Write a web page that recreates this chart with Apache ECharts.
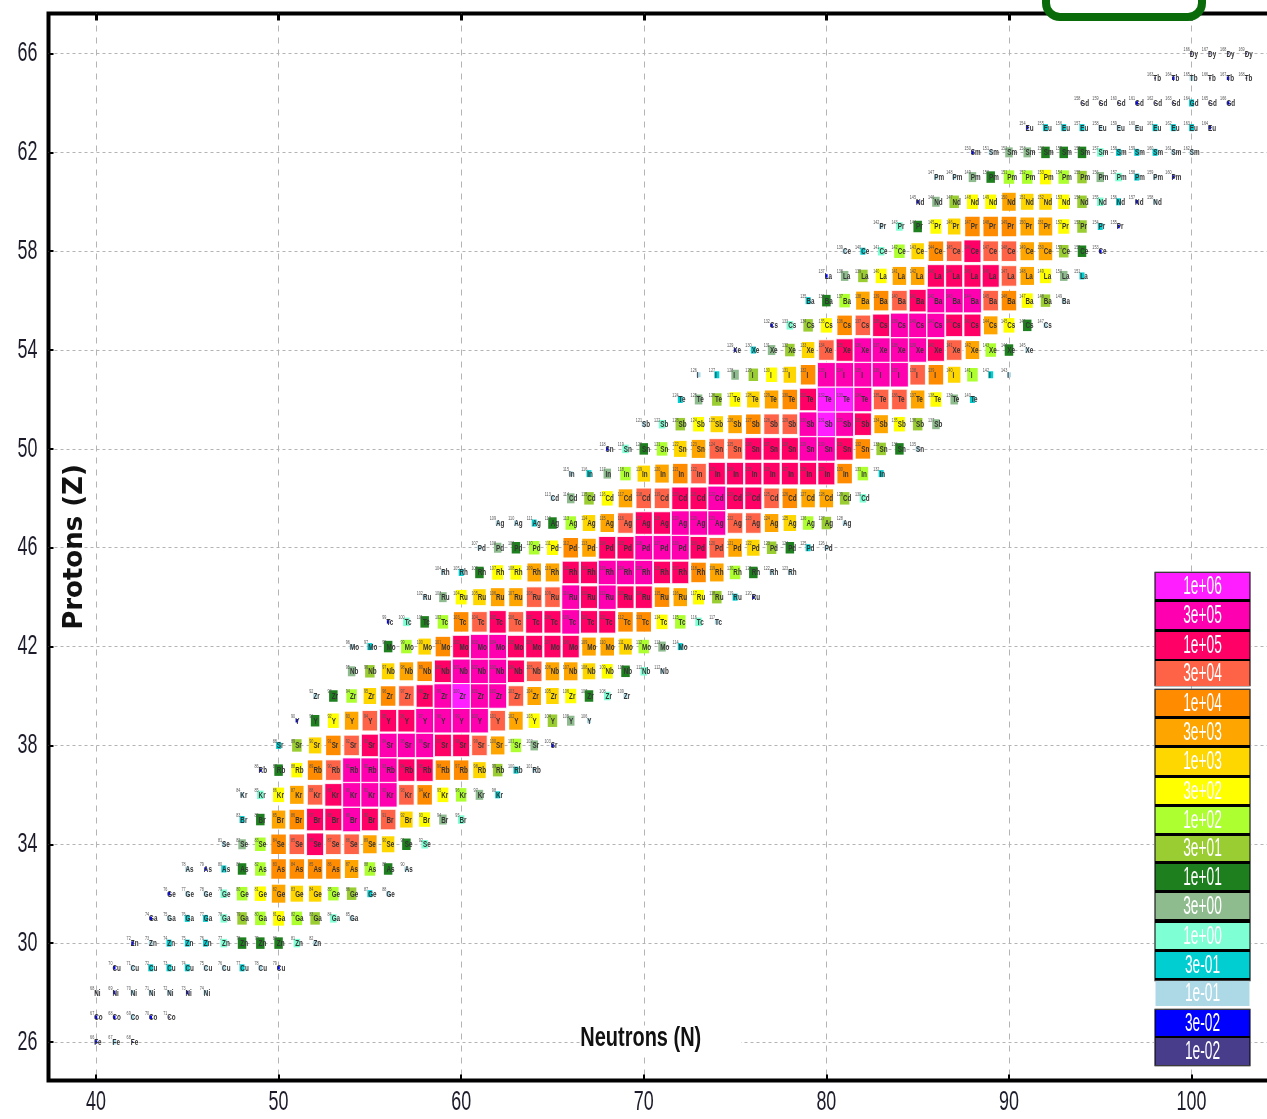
<!DOCTYPE html>
<html><head><meta charset="utf-8">
<style>html,body{margin:0;padding:0;background:#fff;overflow:hidden}#c{width:1267px;height:1119px;filter:blur(0.45px)}</style>
<script src="https://cdn.jsdelivr.net/npm/echarts@6/dist/echarts.min.js"></script>
</head><body><div id="c"></div>
<script>
// Colour-scale classes
const legendValues = [1e6,3e5,1e5,3e4,1e4,3e3,1e3,3e2,1e2,3e1,1e1,3e0,1e0,3e-1,1e-1,3e-2,1e-2];
const legendLabels = ['1e+06','3e+05','1e+05','3e+04','1e+04','3e+03','1e+03','3e+02','1e+02','3e+01','1e+01','3e+00','1e+00','3e-01','1e-01','3e-02','1e-02'];
const elements = ['Fe','Co','Ni','Cu','Zn','Ga','Ge','As','Se','Br','Kr','Rb','Sr','Y','Zr','Nb','Mo','Tc','Ru','Rh','Pd','Ag','Cd','In','Sn','Sb','Te','I','Xe','Cs','Ba','La','Ce','Pr','Nd','Pm','Sm','Eu','Gd','Tb','Dy'];
const neutronTicks = [40,50,60,70,80,90,100];
const protonTicks = [26,30,34,38,42,46,50,54,58,62,66];
// Values per proton row, in consecutive neutron numbers from firstN
const z26=[3e-2,1e-1,1e-2];
const z27=[3e-2,3e-2,1e-1,3e-2,1e-2];
const z28=[1e-2,3e-2,1e-1,1e-1,1e-1,3e-2,1e-1];
const z29=[3e-2,1e-1,3e-1,3e-1,3e-1,1e-1,1e-1,3e-1,1e-1,3e-2];
const z30=[3e-2,1e-1,3e-1,3e-1,3e-1,1e0,1e1,1e1,1e1,1e0,1e-1];
const z31=[3e-2,1e-1,3e-1,3e-1,1e0,3e1,1e2,3e2,1e2,3e1,1e0,1e-1];
const z32=[3e-2,1e-1,1e-1,1e0,1e2,3e2,3e3,1e3,1e3,1e2,3e1,3e-1,1e-1];
const z33=[1e-1,3e-2,3e-1,1e1,1e2,1e4,1e4,1e4,1e4,3e3,1e2,1e1,1e-1];
const z34=[1e-1,3e0,1e2,1e4,3e4,1e5,3e4,3e4,3e3,1e3,1e1,1e0];
const z35=[3e-1,1e1,3e3,1e4,1e5,1e5,3e5,1e5,3e4,1e3,3e2,3e0,1e0];
const z36=[1e-1,1e0,3e2,3e3,3e4,1e5,3e5,3e5,3e5,3e4,1e4,3e2,1e2,3e0,3e-1];
const z37=[3e-2,1e1,3e2,1e4,3e4,3e5,3e5,3e5,1e5,1e5,1e4,1e4,1e3,3e1,3e-1,1e-1];
const z38=[3e-1,3e1,1e3,1e4,3e4,1e5,3e5,3e5,3e5,1e5,1e5,3e4,3e3,1e2,3e0,3e-2];
const z39=[3e-2,1e1,3e2,3e3,3e4,1e5,1e5,3e5,3e5,3e5,3e5,3e4,3e3,3e2,3e1,3e0,1e-1];
const z40=[1e-1,1e1,1e2,1e3,1e4,3e4,1e5,3e5,1e6,3e5,3e5,3e4,3e3,1e3,3e2,1e1,1e0,1e-1];
const z41=[3e0,3e1,1e3,3e3,1e4,1e5,3e5,3e5,3e5,1e5,3e4,3e3,3e3,1e3,3e2,1e1,1e0,1e-1];
const z42=[1e-1,3e-1,1e1,1e2,1e3,1e4,1e5,3e5,3e5,1e5,1e5,1e5,1e5,3e3,3e3,1e3,1e2,3e0,3e-1];
const z43=[3e-2,1e0,1e1,1e2,1e4,3e4,1e5,3e4,1e5,1e5,3e5,1e5,1e5,1e4,1e4,3e2,1e2,1e0,1e-1];
const z44=[1e-1,3e0,3e2,1e3,3e3,3e3,3e4,3e4,3e5,1e5,3e5,1e5,1e5,1e4,3e3,3e2,3e1,3e-1,3e-2];
const z45=[1e-1,3e-1,1e1,3e2,3e2,3e3,3e3,1e5,1e5,3e5,3e5,3e5,1e5,1e5,1e4,3e3,1e2,1e1,1e-1,1e-1];
const z46=[1e-1,3e0,1e1,1e2,3e2,1e4,3e3,1e5,1e5,3e5,3e5,3e5,1e5,3e4,3e3,1e3,3e1,1e1,3e-1,1e-1];
const z47=[1e-1,1e-1,3e-1,1e1,1e2,1e3,3e3,3e4,1e5,1e5,3e5,3e5,3e5,3e4,3e4,3e3,1e3,1e2,3e1,1e-1];
const z48=[1e-1,3e0,3e1,3e2,3e3,3e4,3e4,1e5,1e5,3e5,1e5,1e5,3e4,1e4,3e3,3e3,3e1,1e0];
const z49=[1e-1,3e-1,3e0,1e2,1e3,3e3,1e4,3e4,1e5,1e5,1e5,1e5,1e5,1e5,1e5,1e4,1e2,3e-1];
const z50=[3e-2,1e0,1e1,1e2,1e3,3e3,3e4,3e4,1e5,1e5,1e5,3e5,3e5,1e5,1e4,3e1,1e1,1e-1];
const z51=[1e-1,1e0,3e1,3e2,1e3,3e3,1e4,3e4,3e4,3e5,1e6,3e5,1e5,3e3,3e2,3e1,3e0];
const z52=[3e-1,3e0,3e1,3e2,1e3,3e3,1e4,1e5,1e6,1e6,3e5,3e4,3e4,3e3,3e2,3e0,3e-1];
const z53=[1e-1,3e-1,3e0,3e1,3e2,1e3,1e4,3e5,3e5,3e5,3e5,3e5,3e4,1e4,1e3,1e2,3e-1,1e-1];
const z54=[3e-2,3e-1,3e0,3e1,1e3,3e4,1e5,3e5,3e5,3e5,3e5,1e5,3e4,3e3,1e2,1e1,1e-1];
const z55=[3e-2,1e0,3e1,3e2,1e4,3e4,1e5,3e5,3e5,3e5,1e5,1e5,3e3,3e2,1e1,1e-1];
const z56=[3e-1,1e1,1e2,3e3,1e4,3e4,1e5,3e5,3e5,3e5,3e4,1e4,3e2,3e1,1e-1];
const z57=[3e-2,3e0,3e1,3e2,3e3,3e3,1e5,1e5,1e5,1e5,3e4,3e3,3e2,3e0,3e-1];
const z58=[1e-1,3e-1,1e0,1e2,1e3,1e4,3e4,1e5,3e4,3e4,3e3,3e3,3e1,1e1,3e-2];
const z59=[1e-1,1e0,1e1,3e2,1e3,1e4,1e4,1e4,3e3,3e3,3e2,3e1,3e-1,3e-2];
const z60=[3e-2,3e0,3e1,3e2,3e2,3e3,1e3,1e3,3e2,3e1,1e0,3e-1,3e-2,1e-1];
const z61=[1e-1,1e-1,3e0,1e1,1e2,1e2,3e2,1e2,3e1,3e0,1e0,3e-1,1e-1,3e-2];
const z62=[3e-2,1e-1,3e0,3e0,1e1,1e1,1e1,1e0,3e-1,3e-1,3e-1,1e-1,1e-1];
const z63=[3e-2,3e-1,3e-1,3e-1,1e-1,1e-1,1e-1,3e-1,3e-1,3e-1,3e-2];
const z64=[1e-2,1e-2,1e-2,3e-2,1e-2,1e-2,3e-1,1e-2,3e-2];
const z65=[1e-2,3e-2,1e-1,1e-2,3e-2,1e-2];
const z66=[1e-2,1e-2,1e-2,1e-2];
const rowValues=[z26,z27,z28,z29,z30,z31,z32,z33,z34,z35,z36,z37,z38,z39,z40,z41,z42,z43,z44,z45,z46,z47,z48,z49,z50,z51,z52,z53,z54,z55,z56,z57,z58,z59,z60,z61,z62,z63,z64,z65,z66];
const firstN=[40,40,40,41,42,43,44,45,47,48,48,49,50,51,52,54,54,56,58,59,61,62,65,66,68,70,72,73,75,77,79,80,81,83,85,86,88,91,94,98,100];
const firstZ=26;

// Styles per class (same order as legendValues)
const colors=['#FF1EFF','#FF00B0','#FF0066','#FF6347','#FF8C00','#FFA500','#FFD700','#FFFF00','#ADFF2F','#9ACD32','#1E7F1E','#8FBC8F','#7FFFD4','#00CED1','#ADD8E6','#0000FF','#483D8B'];
const cellW=[18.3,17.9,17,15.5,14.5,13.5,12.5,11,10.5,9.5,8.5,7.5,6.5,5,4,2.5,1.5];
const cellH=[24.8,24.4,22.5,20.5,19.5,18,16,14.5,13.5,12.5,11.5,10,8.5,7,5,3.5,2];

const cells=[];
rowValues.forEach((vals,i)=>vals.forEach((v,j)=>cells.push([firstN[i]+j,firstZ+i,v])));

const font='"Liberation Sans",sans-serif';
const legendTop=[573,602,632,661,690,719,748,778,807,836,864,893,923,952,981,1010,1038];
const legendH=[26,27,27,25,26,26,27,26,26,25,26,26,26,26,25,26,27];
const legendGraphics=[];
[[572,114],[689,292],[1009,57]].forEach(b=>legendGraphics.push({type:'rect',z:50,shape:{x:1154.5,y:b[0],width:96,height:b[1]},style:{fill:'#000',stroke:'#777',lineWidth:1}}));
legendValues.forEach((v,i)=>{
  legendGraphics.push({type:'rect',z:51,shape:{x:1155.5,y:legendTop[i],width:94,height:legendH[i]},style:{fill:colors[i]}});
  legendGraphics.push({type:'text',z:52,x:1202.5,y:legendTop[i]+legendH[i]/2+1,scaleX:0.55,style:{text:legendLabels[i],fill:'#fff',font:'25px '+font,align:'center',verticalAlign:'middle'}});
});

const chart=echarts.init(document.getElementById('c'),null,{renderer:'canvas'});
const splitX={show:true,lineStyle:{color:'#b4b4b4',width:1,type:[6,6]}};
const splitY={show:true,lineStyle:{color:'#b4b4b4',width:1,type:[3,3]}};
chart.setOption({
  animation:false,
  backgroundColor:'#fff',
  grid:{left:48.5,top:13.5,width:1224.5,height:1067,outerBoundsMode:'none',containLabel:false,show:true,borderColor:'#000',borderWidth:4,backgroundColor:'#fff'},
  xAxis:[{type:'value',min:37.4,max:104.46,position:'bottom',name:'Neutrons (N)',nameLocation:'middle',nameGap:-55,nameMoveOverlap:false,
    nameTextStyle:{fontFamily:font,fontWeight:'bold',fontSize:27,color:'#111',backgroundColor:'#fff',padding:[0,54,0,0]},
    axisLine:{show:false},
    axisTick:{show:true,inside:true,length:6,lineStyle:{color:'#000',width:2},customValues:neutronTicks},
    axisLabel:{show:true,customValues:neutronTicks,fontFamily:font,fontSize:28,color:'#1c1c2a',margin:8,formatter:v=>String(v),hideOverlap:false},
    splitLine:splitX},
   {type:'value',min:37.4,max:104.46,position:'top',axisLine:{show:false},
    axisTick:{show:true,inside:true,length:7,lineStyle:{color:'#000',width:3},customValues:neutronTicks},
    axisLabel:{show:false,customValues:neutronTicks},splitLine:{show:false}}],
  yAxis:{type:'value',min:24.44,max:67.62,name:'Protons (Z)',nameLocation:'middle',nameGap:-40,nameMoveOverlap:false,
    nameTextStyle:{fontFamily:'"DejaVu Sans",sans-serif',fontWeight:'bold',fontSize:26,color:'#111'},
    axisLine:{show:false},
    axisTick:{show:true,inside:true,length:5,lineStyle:{color:'#000',width:2},customValues:protonTicks},
    axisLabel:{show:true,customValues:protonTicks,fontFamily:font,fontSize:28,color:'#1c1c2a',margin:11,padding:[6,0,0,0],formatter:v=>String(v)},
    splitLine:splitY},
  graphic:{elements:[
    {type:'rect',z:40,shape:{x:1046,y:-40,width:156,height:57,r:14},style:{fill:'#fff',stroke:'#0A6B0A',lineWidth:8}},
    ...legendGraphics]},
  series:[{
    type:'custom',coordinateSystem:'cartesian2d',clip:false,encode:{x:0,y:1},data:cells,silent:true,
    renderItem:(p,api)=>{
      const n=api.value(0),z=api.value(1),v=api.value(2);
      const c=api.coord([n,z]);
      const k=legendValues.indexOf(v);
      const w=cellW[k],h=cellH[k],big=k<=3;
      return {type:'group',children:[
        {type:'rect',shape:{x:c[0]-w/2,y:c[1]-h/2,width:w,height:h},
         style:{fill:colors[k],stroke:big?'rgba(255,255,255,.85)':null,lineWidth:big?1:0}},
        {type:'text',x:c[0]-1.7,y:c[1]-4,scaleX:0.75,style:{text:String(n+z),fill:'#555',font:'5px '+font,align:'right',verticalAlign:'middle'}},
        {type:'text',x:c[0]-1.7,y:c[1]+0.5,scaleX:0.7,style:{text:elements[z-firstZ],fill:'#333',font:'bold 9px '+font,align:'left',verticalAlign:'middle'}}
      ]};
    }
  }]
});
// Narrow the axis text to the reference's condensed look (no condensed font is installed)
const zr=chart.getZr();
zr.storage.getRoots().forEach(root=>{
  if(!root.traverse) return;
  root.traverse(el=>{
    const s=el.style;
    if(!s||el.type==='tspan'||!s.text) return;
    if(s.fontSize===28){el.scaleX=0.64;el.markRedraw&&el.markRedraw();}
    else if(s.fontSize===27&&s.fontFamily===font){el.scaleX=0.74;el.markRedraw&&el.markRedraw();}
  });
});
zr.refresh();
</script></body></html>
